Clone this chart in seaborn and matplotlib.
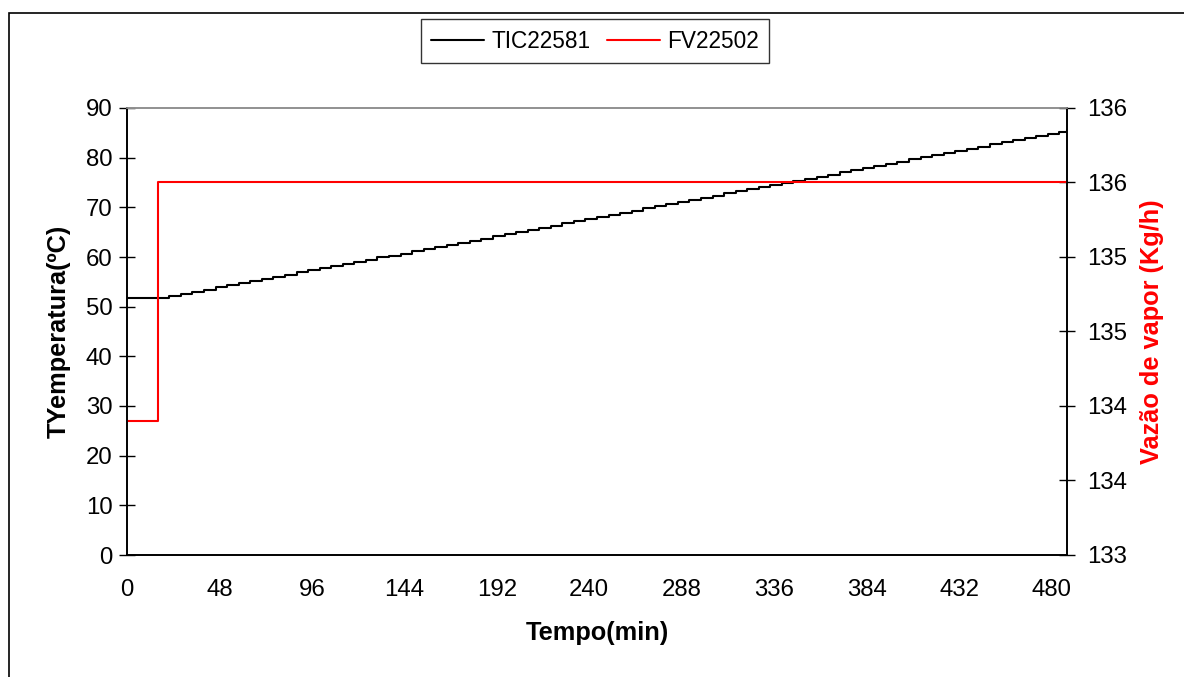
import numpy as np
import pandas as pd
import matplotlib
matplotlib.use("Agg")
import matplotlib.pyplot as plt
import matplotlib.ticker as mticker
from matplotlib.patches import Rectangle
import seaborn as sns

# ==============================================================================
# DADOS
# ==============================================================================
# TIC22581 - temperatura (ºC), degraus a cada 6 min a partir de t=16
tempo_tic = [0] + list(range(16, 490, 6)) + [488]
temp_tic = [51.7,
            51.7, 52.1, 52.6, 53.0, 53.4, 53.9, 54.3, 54.7, 55.1, 55.6,
            56.0, 56.4, 56.9, 57.3, 57.7, 58.2, 58.6, 59.0, 59.4, 59.9,
            60.3, 60.7, 61.2, 61.6, 62.0, 62.5, 62.9, 63.3, 63.7, 64.2,
            64.6, 65.0, 65.5, 65.9, 66.3, 66.8, 67.2, 67.6, 68.0, 68.5,
            68.9, 69.3, 69.8, 70.2, 70.6, 71.1, 71.5, 71.9, 72.3, 72.8,
            73.2, 73.6, 74.1, 74.5, 74.9, 75.4, 75.8, 76.2, 76.6, 77.1,
            77.5, 77.9, 78.4, 78.8, 79.2, 79.7, 80.1, 80.5, 80.9, 81.4,
            81.8, 82.2, 82.7, 83.1, 83.5, 84.0, 84.4, 84.8, 85.2,
            85.6]

# FV22502 - vazão de vapor (Kg/h)
tempo_fv = [0, 16, 488]
vazao_fv = [133.9, 135.5, 135.5]

x_ticks = [0, 48, 96, 144, 192, 240, 288, 336, 384, 432, 480]
y_left_ticks = [0, 10, 20, 30, 40, 50, 60, 70, 80, 90]
y_right_ticks = [133.0, 133.5, 134.0, 134.5, 135.0, 135.5, 136.0]
y_right_labels = ['133', '134', '134', '135', '135', '136', '136']

df_tic = pd.DataFrame({'tempo': tempo_tic, 'temp': temp_tic})
df_fv = pd.DataFrame({'tempo': tempo_fv, 'vazao': vazao_fv})

# ==============================================================================
# GRÁFICO
# ==============================================================================
sns.set_style("white")
plt.rcParams['font.family'] = ['Liberation Sans', 'DejaVu Sans']
plt.rcParams['text.color'] = 'black'
plt.rcParams['xtick.color'] = 'black'
plt.rcParams['ytick.color'] = 'black'
plt.rcParams['axes.labelcolor'] = 'black'

fig = plt.figure(figsize=(11.84, 6.77), dpi=100)
ax = fig.add_axes([127 / 1184, 1 - 555 / 677, (1067 - 127) / 1184, (555 - 108) / 677])
ax2 = ax.twinx()

sns.lineplot(data=df_tic, x='tempo', y='temp', ax=ax, color='black',
             linewidth=1.5, drawstyle='steps-post', label='TIC22581', legend=False)
sns.lineplot(data=df_fv, x='tempo', y='vazao', ax=ax2, color='red',
             linewidth=1.5, drawstyle='steps-post', label='FV22502', legend=False)

ax.set_xlim(0, 488)
ax.set_ylim(0, 90)
ax2.set_ylim(133, 136)

ax.set_xticks(x_ticks)
ax.xaxis.set_minor_locator(mticker.MultipleLocator(12))
ax.set_yticks(y_left_ticks)
ax2.set_yticks(y_right_ticks)
ax2.set_yticklabels(y_right_labels)

ax.tick_params(axis='x', which='both', direction='inout', length=11, width=1,
               color='black', labelsize=17.3, pad=12)
ax.tick_params(axis='y', direction='inout', length=11, width=1,
               color='black', labelsize=17.3, pad=5)
ax2.tick_params(axis='y', direction='inout', length=11, width=1,
                color='black', labelsize=17.3, pad=9)

for a in (ax, ax2):
    for s in a.spines.values():
        s.set_visible(True)
        s.set_color('black')
        s.set_linewidth(1.2)
    a.spines['top'].set_color('#909090')

ax.set_xlabel('Tempo(min)', fontsize=18.3, fontweight='bold', labelpad=14)
ax.set_ylabel('TYemperatura(ºC)', fontsize=18.3, fontweight='bold', labelpad=11)
ax2.set_ylabel('Vazão de vapor (Kg/h)', fontsize=18.3, fontweight='bold',
               color='red', labelpad=9)

# legenda no topo
h1, l1 = ax.get_legend_handles_labels()
h2, l2 = ax2.get_legend_handles_labels()
leg = fig.legend(h1 + h2, l1 + l2, loc='center', bbox_to_anchor=(595 / 1184, 1 - 41 / 677),
                 ncol=2, fontsize=16.3, frameon=True, fancybox=False, handlelength=2.35,
                 handletextpad=0.3, columnspacing=0.75, borderpad=0.45)
leg.get_frame().set_edgecolor('black')
leg.get_frame().set_linewidth(1.0)

# moldura externa
fig.patches.append(Rectangle((9 / 1184, -0.05), 1.2, 1 - 13 / 677 + 0.05,
                             transform=fig.transFigure, fill=False,
                             edgecolor='black', linewidth=1.2))

fig.savefig('out.png', dpi=100)
